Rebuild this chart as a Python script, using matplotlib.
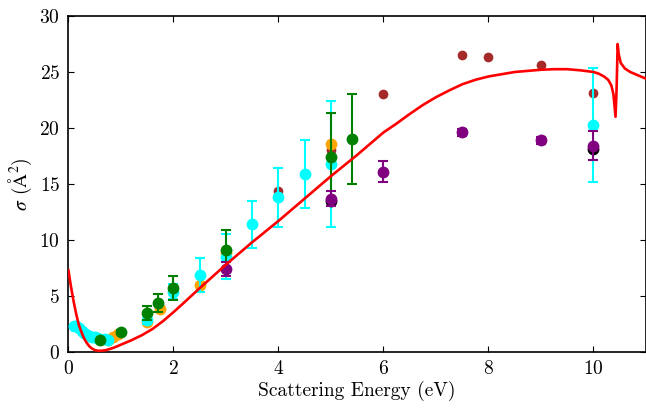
import matplotlib
matplotlib.use("Agg")
import matplotlib.pyplot as plt

plt.rcParams['font.family'] = 'serif'
plt.rcParams['font.serif'] = ['cmr10', 'DejaVu Serif']
plt.rcParams['mathtext.fontset'] = 'cm'
plt.rcParams['axes.unicode_minus'] = False
plt.rcParams['axes.formatter.use_mathtext'] = True

# Theory curve
theory_x = [0.0, 0.05, 0.1, 0.15, 0.2, 0.25, 0.3, 0.35, 0.4, 0.45, 0.5, 0.55, 0.6,
            0.7, 0.8, 0.9, 1.0, 1.2, 1.4, 1.6, 1.8, 2.0, 2.2, 2.5, 2.75, 3.0, 3.5,
            4.0, 4.5, 5.0, 5.5, 5.75, 6.0, 6.25, 6.5, 6.75, 7.0, 7.25, 7.5, 7.75,
            8.0, 8.25, 8.5, 8.75, 9.0, 9.25, 9.5, 9.75, 10.0, 10.1, 10.2, 10.28,
            10.34, 10.38, 10.42, 10.44, 10.46, 10.48, 10.52, 10.6, 10.7, 10.85, 11.0]
theory_y = [7.3, 5.8, 4.5, 3.35, 2.4, 1.75, 1.2, 0.8, 0.5, 0.3, 0.18, 0.12, 0.1,
            0.15, 0.28, 0.45, 0.65, 1.05, 1.5, 2.05, 2.75, 3.55, 4.4, 5.7, 6.75, 7.8, 9.8,
            11.7, 13.7, 15.7, 17.6, 18.6, 19.6, 20.4, 21.25, 22.05, 22.75, 23.35, 23.9, 24.3,
            24.6, 24.8, 25.0, 25.1, 25.2, 25.25, 25.25, 25.15, 25.0, 24.85, 24.6, 24.3,
            23.8, 23.0, 21.0, 23.5, 27.5, 26.6, 25.8, 25.3, 25.0, 24.7, 24.4]

# Cyan series
cyan_x = [0.1, 0.15, 0.2, 0.25, 0.3, 0.35, 0.4, 0.45, 0.5, 0.55, 0.6, 0.7, 0.75,
          1.5, 2.0, 2.5, 3.0, 3.5, 4.0, 4.5, 5.0, 10.0]
cyan_y = [2.3, 2.3, 2.1, 1.9, 1.7, 1.55, 1.45, 1.35, 1.3, 1.25, 1.2, 1.15, 1.1,
          2.9, 5.4, 6.9, 8.5, 11.4, 13.8, 15.9, 16.8, 20.3]
cyan_err = [0, 0, 0, 0, 0, 0, 0, 0, 0, 0, 0, 0, 0,
            0.4, 0.7, 1.5, 2.0, 2.1, 2.6, 3.0, 5.6, 5.1]

# Orange series
orange_x = [0.75, 0.85, 0.95, 1.5, 1.75, 2.5, 3.0, 5.0]
orange_y = [1.1, 1.35, 1.6, 2.7, 3.8, 6.0, 8.8, 18.6]

# Green series
green_x = [0.6, 1.0, 1.5, 1.7, 2.0, 3.0, 5.0, 5.4]
green_y = [1.1, 1.8, 3.5, 4.4, 5.7, 9.1, 17.4, 19.0]
green_err = [0.0, 0.2, 0.65, 0.8, 1.1, 1.8, 3.9, 4.0]

# Brown series
brown_x = [4.0, 5.0, 6.0, 7.5, 8.0, 9.0, 10.0]
brown_y = [14.4, 18.0, 23.0, 26.5, 26.3, 25.6, 23.1]

# Black series (mostly hidden)
black_x = [5.0, 10.0]
black_y = [13.5, 18.1]

# Purple series
purple_x = [3.0, 5.0, 6.0, 7.5, 9.0, 10.0]
purple_y = [7.4, 13.7, 16.1, 19.6, 18.9, 18.4]
purple_err = [0.6, 0.65, 0.95, 0.3, 0.3, 1.3]

x_ticks = [0, 2, 4, 6, 8, 10]
y_ticks = [0, 5, 10, 15, 20, 25, 30]

fig = plt.figure(figsize=(6.46, 4.08), dpi=100)
ax = fig.add_axes([0.1059, 0.1373, 0.8941, 0.8235])

ms = 8.5
ax.plot(brown_x, brown_y, 'o', color='#a52a2a', ms=7, mec='none', zorder=2)
ax.plot(orange_x, orange_y, 'o', color='#ffa500', ms=ms, mec='none', zorder=3)
ax.errorbar(cyan_x, cyan_y, yerr=cyan_err, fmt='o', color='cyan', ms=ms, mec='none',
            ecolor='cyan', elinewidth=1.5, capsize=3.6, capthick=1.5, zorder=4)
ax.errorbar(green_x, green_y, yerr=green_err, fmt='o', color='green', ms=ms, mec='none',
            ecolor='green', elinewidth=1.5, capsize=3.6, capthick=1.5, zorder=5)
ax.plot(black_x, black_y, 'o', color='black', ms=ms, mec='none', zorder=6)
ax.errorbar(purple_x, purple_y, yerr=purple_err, fmt='o', color='purple', ms=ms, mec='none',
            ecolor='purple', elinewidth=1.5, capsize=3.6, capthick=1.5, zorder=7)
ax.plot(theory_x, theory_y, '-', color='red', lw=1.9, zorder=8)

ax.set_xlim(0, 11)
ax.set_ylim(0, 30)
ax.set_xticks(x_ticks)
ax.set_yticks(y_ticks)
ax.tick_params(direction='in', top=True, right=True, length=4.5, width=0.8,
               labelsize=14, pad=6)
for s in ax.spines.values():
    s.set_linewidth(1.2)
ax.set_xlabel('Scattering Energy (eV)', fontsize=14, labelpad=2)
ax.set_ylabel('$\\sigma$ ($\\mathrm{Å}^2$)', fontsize=14, labelpad=4,
              math_fontfamily='stix')

fig.savefig('out.png', dpi=100)
